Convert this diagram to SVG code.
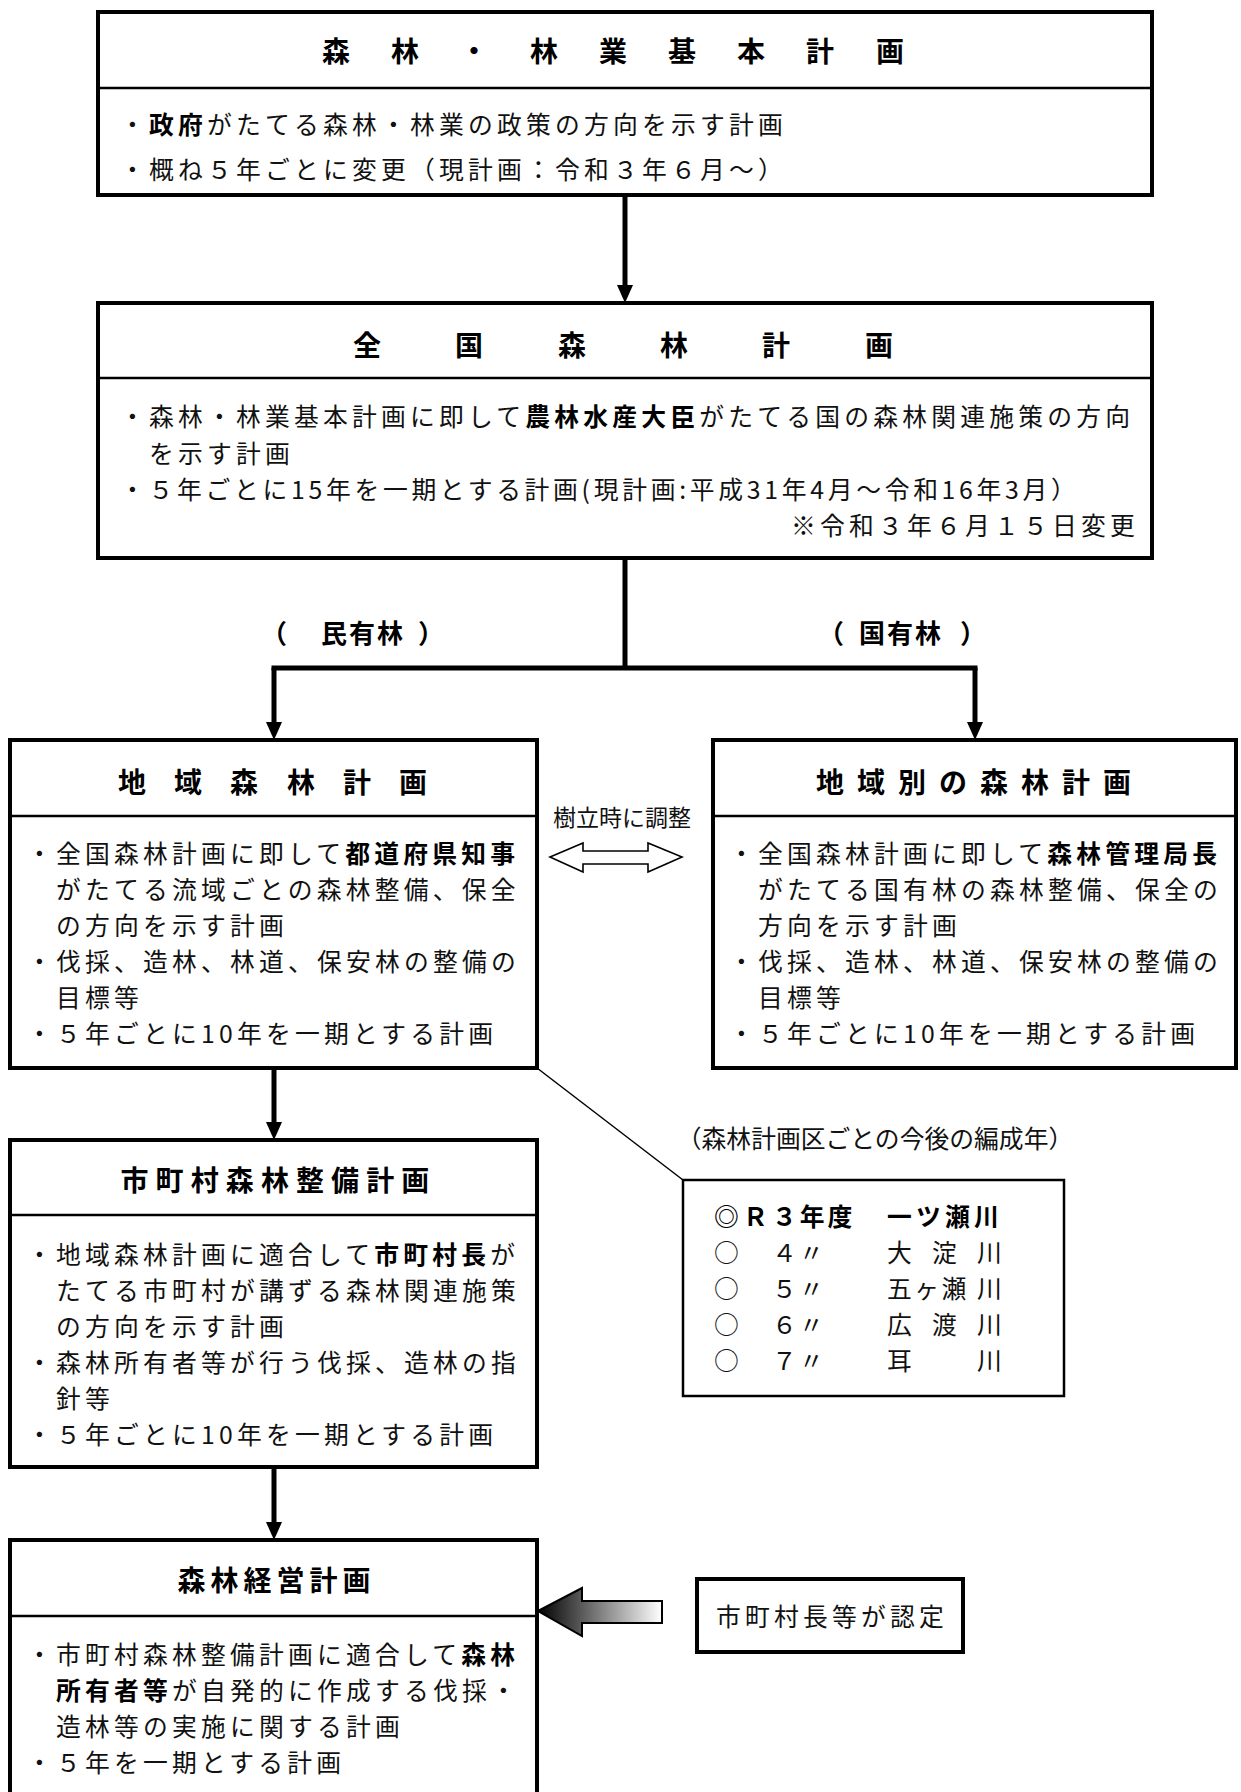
<svg xmlns="http://www.w3.org/2000/svg" width="1241" height="1792" viewBox="0 0 1241 1792">
<style>
.box{fill:#fff;stroke:#000;stroke-width:4}
.thin{fill:#fff;stroke:#000;stroke-width:2.5}
.div{stroke:#000;stroke-width:2.5}
.con{fill:none;stroke:#000;stroke-width:5}
.t{font-family:"Noto Sans CJK JP","Noto Sans CJK SC",sans-serif;font-weight:700;font-size:28px;text-anchor:middle;fill:#000}
.b{font-family:"Noto Sans CJK JP","Noto Sans CJK SC",sans-serif;font-size:24.8px;letter-spacing:4.2px;fill:#111}
.r{font-family:"Noto Sans CJK JP","Noto Sans CJK SC",sans-serif;font-size:24.8px;fill:#111}
.s{font-family:"Noto Sans CJK JP","Noto Sans CJK SC",sans-serif;font-size:23px;fill:#111}
.lab{font-family:"Noto Sans CJK JP","Noto Sans CJK SC",sans-serif;font-size:26px;font-weight:700;fill:#000}
.k{font-weight:700;fill:#000}
</style>
<defs>
<marker id="ah" viewBox="0 0 18 16" markerWidth="18" markerHeight="16" refX="10" refY="8" orient="auto" markerUnits="userSpaceOnUse">
<path d="M0,0 L18,8 L0,16 z" fill="#000"/>
</marker>
<linearGradient id="grad" gradientUnits="userSpaceOnUse" x1="538" y1="0" x2="662" y2="0">
<stop offset="0" stop-color="#000"/>
<stop offset="1" stop-color="#fff"/>
</linearGradient>
</defs>

<g id="connectors">
<path class="con" d="M625,195 V295" marker-end="url(#ah)"/>
<path class="con" d="M625,558 V668 M271.5,668 H977.5"/>
<path class="con" d="M274,668 V732" marker-end="url(#ah)"/>
<path class="con" d="M975,668 V732" marker-end="url(#ah)"/>
<path class="con" d="M274,1068 V1132" marker-end="url(#ah)"/>
<path class="con" d="M274,1467 V1532" marker-end="url(#ah)"/>
<path d="M537,1068 L683,1180" fill="none" stroke="#000" stroke-width="1.5"/>
<polygon points="550,857 583,843 583,851 648,851 648,843 682,857 648,872 648,864 583,864 583,872" fill="#fff" stroke="#000" stroke-width="1.6"/>
<text class="s" x="622" y="826" text-anchor="middle">樹立時に調整</text>
<polygon points="538,1611 582,1588 582,1601 662,1601 662,1623 582,1623 582,1636" fill="url(#grad)" stroke="#000" stroke-width="2"/>
<text class="lab" y="643"><tspan x="261">（</tspan><tspan x="321" letter-spacing="2">民有林</tspan><tspan x="418">）</tspan></text>
<text class="lab" y="643"><tspan x="818">（</tspan><tspan x="859" letter-spacing="2">国有林</tspan><tspan x="960">）</tspan></text>
</g>

<g id="node-kihon">
<rect class="box" x="98" y="12" width="1054" height="183"/>
<line class="div" x1="98" y1="88" x2="1152" y2="88"/>
<text class="t" y="62" x="336 405 474 544 613 682 751 820 890">森林・林業基本計画</text>
<text class="b" x="120" y="134">・<tspan class="k">政府</tspan>がたてる森林・林業の政策の方向を示す計画</text>
<text class="b" x="120" y="179">・概ね５年ごとに変更（現計画：令和３年６月～）</text>
</g>

<g id="node-zenkoku">
<rect class="box" x="98" y="303" width="1054" height="255"/>
<line class="div" x1="98" y1="378" x2="1152" y2="378"/>
<text class="t" y="356" x="367 469 572 674 776 879">全国森林計画</text>
<text class="b" x="120" y="426">・森林・林業基本計画に即して<tspan class="k">農林水産大臣</tspan>がたてる国の森林関連施策の方向</text>
<text class="b" x="149" y="463">を示す計画</text>
<text class="b" x="120" y="499" textLength="960" lengthAdjust="spacing">・５年ごとに15年を一期とする計画(現計画:平成31年4月～令和16年3月）</text>
<text class="b" x="1139" y="535" text-anchor="end">※令和３年６月１５日変更</text>
</g>

<g id="node-chiiki">
<rect class="box" x="10" y="740" width="527" height="328"/>
<line class="div" x1="10" y1="816" x2="537" y2="816"/>
<text class="t" y="793" x="132 188 244 301 357 413">地域森林計画</text>
<text class="b" x="27" y="863">・全国森林計画に即して<tspan class="k">都道府県知事</tspan></text>
<text class="b" x="56" y="899">がたてる流域ごとの森林整備、保全</text>
<text class="b" x="56" y="935">の方向を示す計画</text>
<text class="b" x="27" y="971">・伐採、造林、林道、保安林の整備の</text>
<text class="b" x="56" y="1007">目標等</text>
<text class="b" x="27" y="1043">・５年ごとに10年を一期とする計画</text>
</g>

<g id="node-chiikibetsu">
<rect class="box" x="713" y="740" width="523" height="328"/>
<line class="div" x1="713" y1="816" x2="1236" y2="816"/>
<text class="t" y="793" x="830 871 912 953 994 1035 1076 1117">地域別の森林計画</text>
<text class="b" x="729" y="863">・全国森林計画に即して<tspan class="k">森林管理局長</tspan></text>
<text class="b" x="758" y="899">がたてる国有林の森林整備、保全の</text>
<text class="b" x="758" y="935">方向を示す計画</text>
<text class="b" x="729" y="971">・伐採、造林、林道、保安林の整備の</text>
<text class="b" x="758" y="1007">目標等</text>
<text class="b" x="729" y="1043">・５年ごとに10年を一期とする計画</text>
</g>

<g id="node-hensei">
<text class="r" x="875" y="1148" text-anchor="middle" font-size="26">（森林計画区ごとの今後の編成年）</text>
<rect class="thin" x="683" y="1180" width="381" height="216"/>
<text class="r k" y="1226"><tspan x="714">◎</tspan><tspan x="743">Ｒ</tspan><tspan x="772" letter-spacing="3">３年度</tspan><tspan x="887" letter-spacing="4.2">一ツ瀬川</tspan></text>
<text class="r" y="1262"><tspan x="714">○</tspan><tspan x="772">４</tspan><tspan x="799">〃</tspan><tspan x="887">大</tspan><tspan x="932">淀</tspan><tspan x="977">川</tspan></text>
<text class="r" y="1298"><tspan x="714">○</tspan><tspan x="772">５</tspan><tspan x="799">〃</tspan><tspan x="887" letter-spacing="2.5">五ヶ瀬</tspan><tspan x="977">川</tspan></text>
<text class="r" y="1334"><tspan x="714">○</tspan><tspan x="772">６</tspan><tspan x="799">〃</tspan><tspan x="887">広</tspan><tspan x="932">渡</tspan><tspan x="977">川</tspan></text>
<text class="r" y="1370"><tspan x="714">○</tspan><tspan x="772">７</tspan><tspan x="799">〃</tspan><tspan x="887">耳</tspan><tspan x="977">川</tspan></text>
</g>

<g id="node-shichoson">
<rect class="box" x="10" y="1140" width="527" height="327"/>
<line class="div" x1="10" y1="1215" x2="537" y2="1215"/>
<text class="t" y="1191" x="134.5 169.6 204.7 239.8 274.9 310 345.1 380.2 415.3">市町村森林整備計画</text>
<text class="b" x="27" y="1264">・地域森林計画に適合して<tspan class="k">市町村長</tspan>が</text>
<text class="b" x="56" y="1300">たてる市町村が講ずる森林関連施策</text>
<text class="b" x="56" y="1336">の方向を示す計画</text>
<text class="b" x="27" y="1372">・森林所有者等が行う伐採、造林の指</text>
<text class="b" x="56" y="1408">針等</text>
<text class="b" x="27" y="1444">・５年ごとに10年を一期とする計画</text>
</g>

<g id="node-keiei">
<rect class="box" x="10" y="1540" width="527" height="280"/>
<line class="div" x1="10" y1="1616" x2="537" y2="1616"/>
<text class="t" y="1591" x="191.5 224.5 257.5 290.5 323.5 356.5">森林経営計画</text>
<text class="b" x="27" y="1664">・市町村森林整備計画に適合して<tspan class="k">森林</tspan></text>
<text class="b" x="56" y="1700"><tspan class="k">所有者等</tspan>が自発的に作成する伐採・</text>
<text class="b" x="56" y="1736">造林等の実施に関する計画</text>
<text class="b" x="27" y="1772">・５年を一期とする計画</text>
</g>

<g id="node-nintei">
<rect class="box" x="697" y="1579" width="266" height="73"/>
<text class="b" x="832" y="1626" text-anchor="middle">市町村長等が認定</text>
</g>
</svg>
